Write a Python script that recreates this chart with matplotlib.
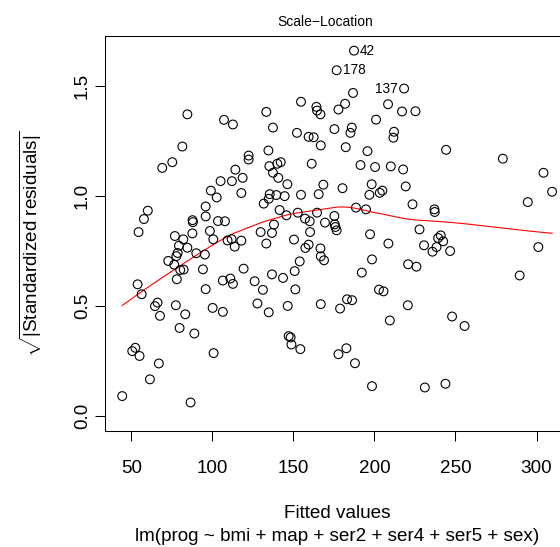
import numpy as np
import matplotlib
matplotlib.use("Agg")
import matplotlib.pyplot as plt

plt.rcParams['font.family'] = ['Liberation Sans', 'DejaVu Sans']
plt.rcParams['mathtext.fontset'] = 'custom'
plt.rcParams['mathtext.rm'] = 'Liberation Sans'
plt.rcParams['mathtext.it'] = 'Liberation Sans:italic'

# Fitted values (x) and sqrt(|standardized residuals|) (y)
fitted = [
    84.6, 107.2, 112.7, 81.5, 75.3, 69.1, 114.2, 105.1, 112.1, 118.7,
    99.1, 102.7, 117.9, 60.2, 57.8, 54.5, 95.9, 95.9, 87.8, 88.0,
    103.5, 107.8, 87.7, 98.5, 76.9, 82.1, 100.6, 79.4, 84.6, 109.4,
    111.9, 117.9, 113.8, 78.6, 77.8, 90.1, 95.4, 72.8, 76.5, 80.2,
    82.3, 94.2, 119.3, 78.1, 53.9, 56.4, 106.5, 111.1, 112.7, 95.9,
    66.2, 64.6, 67.7, 77.5, 83.3, 100.2, 106.5, 79.8, 88.9, 52.5,
    50.6, 55.1, 67.0, 100.8, 61.5, 44.4, 86.6, 187.4, 176.7, 218.3,
    208.4, 186.8, 154.7, 181.9, 177.8, 164.2, 164.6, 166.7, 133.3, 137.4,
    152.2, 159.4, 162.5, 166.9, 175.3, 186.0, 185.2, 201.0, 182.3, 195.7,
    134.6, 122.4, 122.4, 135.2, 140.1, 142.2, 161.3, 191.4, 200.4, 217.0,
    225.3, 212.1, 211.7, 244.2, 279.2, 210.1, 217.7, 137.4, 140.7, 146.3,
    168.5, 180.3, 198.3, 204.9, 203.3, 196.9, 135.4, 139.5, 134.8, 144.6,
    131.7, 154.7, 165.6, 141.5, 152.7, 145.7, 164.6, 157.2, 160.1, 175.3,
    169.5, 188.6, 194.8, 175.5, 175.9, 176.7, 138.0, 136.8, 129.8, 160.3,
    133.3, 150.4, 197.3, 159.4, 157.4, 166.7, 208.6, 153.9, 166.9, 168.9,
    198.5, 136.8, 143.6, 150.8, 192.2, 126.1, 131.2, 151.2, 202.8, 205.6,
    183.1, 186.2, 127.8, 134.8, 146.5, 166.9, 178.8, 209.5, 147.1, 148.3,
    148.8, 154.3, 177.8, 182.7, 188.0, 198.5, 219.3, 223.5, 237.0, 237.2,
    294.6, 227.8, 230.6, 240.9, 239.3, 242.4, 238.3, 235.8, 246.7, 301.1,
    220.8, 225.9, 289.6, 304.3, 309.6, 220.6, 247.9, 255.6, 231.1, 243.8,
]
sqrt_std_resid = [
    1.370, 1.345, 1.324, 1.224, 1.153, 1.127, 1.119, 1.067, 1.067, 1.082,
    1.024, 0.993, 1.013, 0.933, 0.895, 0.836, 0.952, 0.907, 0.890, 0.881,
    0.886, 0.885, 0.830, 0.841, 0.818, 0.803, 0.803, 0.774, 0.765, 0.798,
    0.804, 0.797, 0.770, 0.741, 0.727, 0.740, 0.734, 0.705, 0.688, 0.664,
    0.666, 0.667, 0.670, 0.622, 0.599, 0.554, 0.616, 0.625, 0.601, 0.577,
    0.516, 0.500, 0.456, 0.504, 0.463, 0.492, 0.474, 0.401, 0.376, 0.311,
    0.296, 0.274, 0.240, 0.287, 0.168, 0.092, 0.063, 1.659, 1.570, 1.487,
    1.416, 1.467, 1.427, 1.418, 1.392, 1.404, 1.387, 1.370, 1.381, 1.310,
    1.286, 1.268, 1.266, 1.229, 1.303, 1.310, 1.286, 1.346, 1.221, 1.203,
    1.206, 1.183, 1.165, 1.135, 1.146, 1.153, 1.146, 1.140, 1.131, 1.383,
    1.384, 1.291, 1.264, 1.209, 1.169, 1.134, 1.120, 1.105, 1.082, 1.053,
    1.051, 1.035, 1.053, 1.024, 1.014, 1.005, 1.008, 1.004, 0.987, 0.999,
    0.965, 1.005, 1.008, 0.936, 0.924, 0.912, 0.924, 0.897, 0.885, 0.909,
    0.879, 0.947, 0.939, 0.871, 0.859, 0.844, 0.870, 0.832, 0.836, 0.836,
    0.784, 0.802, 0.826, 0.779, 0.764, 0.762, 0.784, 0.703, 0.726, 0.708,
    0.712, 0.644, 0.628, 0.659, 0.652, 0.613, 0.574, 0.576, 0.575, 0.567,
    0.531, 0.527, 0.512, 0.472, 0.501, 0.509, 0.489, 0.435, 0.364, 0.358,
    0.326, 0.305, 0.282, 0.309, 0.241, 0.137, 1.043, 0.962, 0.939, 0.927,
    0.972, 0.848, 0.776, 0.821, 0.809, 0.794, 0.768, 0.747, 0.750, 0.768,
    0.690, 0.679, 0.639, 1.105, 1.019, 0.504, 0.453, 0.410, 0.131, 0.148,
]
# labelled observations: (index into arrays, label, side)
id_points = [(67, "42", "right"), (68, "178", "right"), (69, "137", "left")]

x_ticks = [50, 100, 150, 200, 250, 300]
y_ticks = [0.0, 0.5, 1.0, 1.5]
y_tick_labels = ["0.0", "0.5", "1.0", "1.5"]

title = "Scale\u2212Location"
xlab = "Fitted values"
sublab = "lm(prog ~ bmi + map + ser2 + ser4 + ser5 + sex)"
ylab = r"$\sqrt{|\mathrm{Standardized\ residuals}|}$"


def lowess(x, y, f=2/3, it=3):
    o = np.argsort(x, kind="mergesort")
    xs, ys = x[o], y[o]
    n = len(xs)
    ns = max(min(int(f * n + 1e-7), n), 2)
    rw = np.ones(n)
    fit = np.zeros(n)
    rng = xs[-1] - xs[0]
    for k in range(it + 1):
        for i in range(n):
            d = np.abs(xs - xs[i])
            h = max(np.sort(d)[ns - 1], 1e-12)
            u = d / h
            w = np.where(u <= 0.999, (1 - np.clip(u, 0, 1) ** 3) ** 3, 0.0)
            w[d <= 0.001 * h] = 1.0
            w = w * rw
            sw = w.sum()
            if sw <= 0:
                fit[i] = ys[i]
                continue
            w = w / sw
            xm = (w * xs).sum()
            b = (w * (xs - xm) ** 2).sum()
            if np.sqrt(b) > 0.001 * rng:
                beta = (w * (xs - xm) * ys).sum() / b
                fit[i] = (w * ys).sum() + beta * (xs[i] - xm)
            else:
                fit[i] = (w * ys).sum()
        if k == it:
            break
        res = ys - fit
        cmad = 6 * np.median(np.abs(res))
        if cmad < 1e-7 * np.mean(np.abs(ys)):
            break
        r = np.abs(res) / cmad
        rw = np.where(r < 1, (1 - np.clip(r, 0, 1) ** 2) ** 2, 0.0)
        rw[r <= 0.001] = 1.0
    return xs, fit


x = np.array(fitted)
y = np.array(sqrt_std_resid)

FS = 13.6
W, H = 560, 547
fig = plt.figure(figsize=(W / 100, H / 100), dpi=100)
left, right, top, bottom = 105, 569.3, 36, 431
ax = fig.add_axes([left / W, 1 - bottom / H, (right - left) / W, (bottom - top) / H])

ax.scatter(x, y, s=40, facecolors="none", edgecolors="black", linewidths=0.8, zorder=3)
lx, ly = lowess(x, y)
ax.plot(lx, ly, color="red", lw=0.8, zorder=2)

for idx, lab, side in id_points:
    off = 6 if side == "right" else -6
    ax.annotate(lab, (x[idx], y[idx]), xytext=(off * 0.72, 0), textcoords="offset points",
                ha="left" if side == "right" else "right", va="center", fontsize=9.8)

xr = x.max() - x.min()
ax.set_xlim(x.min() - 0.04 * xr, x.max() + 0.04 * xr)
ymax = y.max()
ax.set_ylim(-0.04 * ymax, 1.04 * ymax)

ax.set_xticks(x_ticks)
ax.set_xticklabels([str(t) for t in x_ticks])
ax.set_yticks(y_ticks)
ax.set_yticklabels(y_tick_labels)
ax.tick_params(axis="both", direction="out", length=6.9, width=0.75, labelsize=FS, colors="black")
ax.tick_params(axis="x", pad=13.9)
ax.tick_params(axis="y", pad=3.1)
for t in ax.get_yticklabels():
    t.set_rotation(90)
    t.set_va("center")
    t.set_ha("right")
for s in ax.spines.values():
    s.set_linewidth(0.75)

ax.set_ylabel(ylab, fontsize=FS)
ax.yaxis.set_label_coords((44 - left) / (right - left), 0.475)

cx = (left + right) / 2
fig.text(325.5 / W, 1 - 26 / H, title, ha="center", va="baseline", fontsize=10)
fig.text(cx / W, 1 - 518 / H, xlab, ha="center", va="baseline", fontsize=FS)
fig.text(cx / W, 1 - 541 / H, sublab, ha="center", va="baseline", fontsize=FS)

fig.savefig("out.png", dpi=100)
